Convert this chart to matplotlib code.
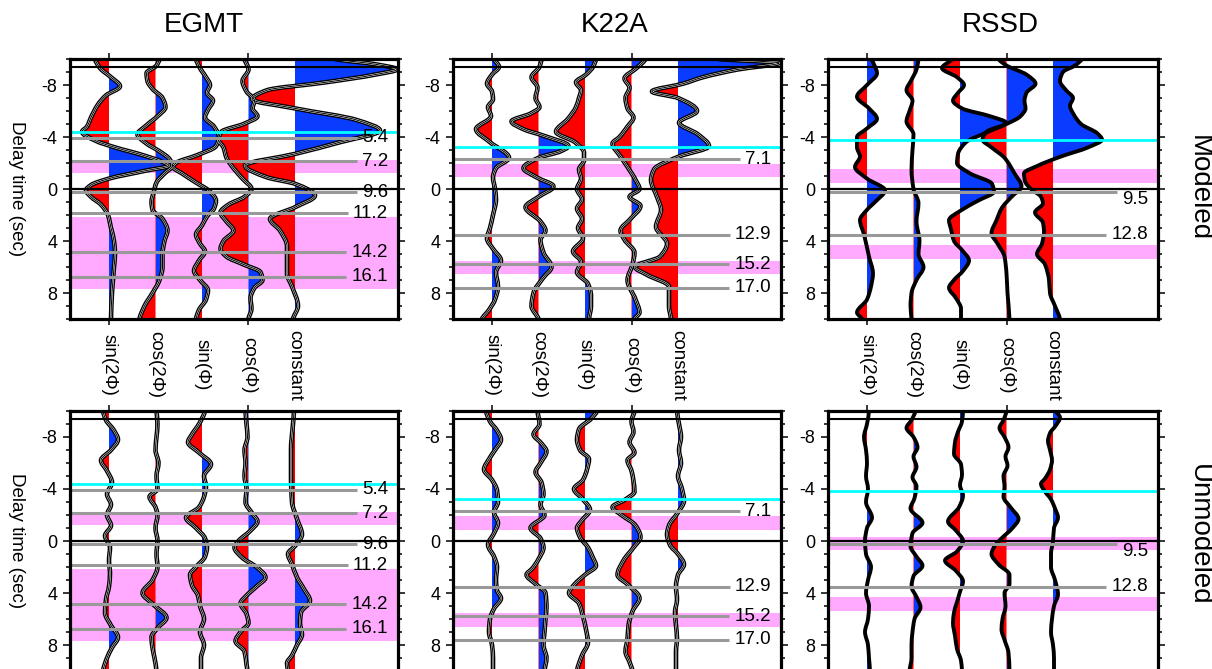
import numpy as np
import matplotlib.pyplot as plt
from matplotlib.path import Path
from matplotlib.patches import PathPatch, Rectangle
from matplotlib.ticker import MultipleLocator
from matplotlib import transforms

plt.rcParams['font.family'] = ['Liberation Sans', 'DejaVu Sans']
plt.rcParams['axes.unicode_minus'] = False

stations = ['EGMT', 'K22A', 'RSSD']
components = ['sin(2Φ)', 'cos(2Φ)', 'sin(Φ)', 'cos(Φ)', 'constant']
rows = ['Modeled', 'Unmodeled']

# harmonic traces: (delay time [s], amplitude) knots
egmt_mod_sin2 = [(-10, -14), (-9.3, -9), (-8.6, 2), (-7.9, 11), (-7.2, -3), (-6.5, -11), (-5.5, -18), (-4.8, -22),
                 (-4.4, -27), (-3.7, -13), (-3.2, 6), (-2.6, 34), (-2.0, 56), (-1.8, 60), (-1.4, 36), (-0.8, 0),
                 (-0.3, -18), (0.1, -23), (0.6, -18), (1.2, -8), (2.0, -1), (3.0, 2), (4.0, 5), (5.0, 6), (6.0, 5),
                 (7.0, 4), (8.0, 3), (10, 2)]
egmt_mod_cos2 = [(-10, 4), (-9.5, 1), (-8.9, -9), (-8.3, -8), (-7.7, -3), (-7.0, 7), (-6.3, 10), (-5.6, 2), (-4.9, -9),
                 (-4.2, -18), (-3.5, -9), (-2.9, 4), (-2.3, 14), (-1.8, 17), (-1.2, 9), (-0.5, 1), (0.3, -2), (1.0, -4),
                 (1.6, -3), (2.3, 7), (3.2, 12), (4.0, 9), (5.0, 7), (6.0, 7), (7.0, 4), (8.0, -3), (9.0, -11), (10, -16)]
egmt_mod_sin = [(-10, -6), (-9.3, -2), (-8.6, 4), (-8.0, 8), (-7.4, 5), (-6.8, 11), (-6.1, 6), (-5.5, 3), (-4.8, 12),
                (-4.0, 17), (-3.3, 14), (-2.6, -5), (-2.0, -26), (-1.7, -29), (-1.2, -20), (-0.5, -6), (0.2, 8),
                (0.9, 14), (1.5, 12), (2.1, 5), (2.8, 0), (3.5, -6), (4.2, -2), (4.8, 3), (5.5, -3), (6.3, -8),
                (7.0, -2), (7.8, 6), (8.5, 4), (9.3, -3), (10, -6)]
egmt_mod_cos = [(-10, -4), (-9.2, 0), (-8.3, -6), (-7.5, -2), (-6.8, 6), (-6.2, 4), (-5.6, 9), (-5.0, -5), (-4.4, -27),
                (-3.8, -30), (-3.2, -25), (-2.4, -22), (-1.6, -15), (-0.8, -6), (0, 3), (0.6, -4), (1.2, -20),
                (1.8, -28), (2.5, -22), (3.2, -15), (4.0, -25), (4.6, -28), (5.2, -22), (5.8, -5), (6.4, 12), (7.0, 14),
                (7.6, 6), (8.4, 2), (9.2, 3), (10, 0)]
egmt_mod_const = [(-10, 40), (-9.6, 80), (-9.2, 102), (-8.8, 80), (-8.2, 30), (-7.6, -28), (-6.9, -43), (-6.2, 0),
                  (-5.3, 62), (-4.5, 85), (-3.6, 45), (-2.7, 0), (-1.8, -50), (-0.9, -28), (-0.4, 0), (0.5, 20),
                  (1.4, 0), (2.3, -25), (3.2, -15), (4.4, -8), (6.5, -8), (7.5, -3), (9.0, 3), (10, -2)]

k22a_mod_sin2 = [(-10, 2), (-9.4, 7), (-8.8, 0), (-8.1, -5), (-7.5, 0), (-6.9, 1), (-6.3, -4), (-5.6, -1), (-4.6, -16),
                 (-3.6, -2), (-2.4, 17), (-1.6, 4), (-0.9, 1), (0, 3), (0.8, 4), (2.0, 1), (3.0, -2), (3.8, -5),
                 (4.6, 1), (5.5, 9), (6.4, 4), (7.5, 6), (8.5, 3), (9.3, -3), (10, -10)]
k22a_mod_cos2 = [(-10, 3), (-9.4, 1), (-8.6, -7), (-7.8, -1), (-7.0, -3), (-6.3, 1), (-5.8, -8), (-5.2, -27),
                 (-4.6, -15), (-4.1, 5), (-3.3, 30), (-2.9, 22), (-2.4, 0), (-1.6, -15), (-0.9, -2), (-0.2, 15),
                 (0.6, 0), (1.4, -13), (2.5, 2), (3.2, 7), (3.9, 2), (4.9, 5), (6.0, 13), (6.8, 5), (8.0, -5),
                 (9.0, -7), (10, 0)]
k22a_mod_sin = [(-10, 11), (-9.4, 8), (-8.8, 1), (-8.2, -9), (-7.6, -4), (-7.0, -6), (-6.3, -9), (-5.4, -17),
                (-4.4, -29), (-3.6, -10), (-2.8, -1), (-2.2, -1), (-1.5, -6), (-0.8, -4), (0, -8), (0.8, -3),
                (1.5, -8), (2.3, -3), (3.0, -7), (3.8, -2), (4.8, -12), (5.6, -4), (6.4, -8), (7.3, 3), (8.2, 6),
                (9.0, 6), (10, 4)]
k22a_mod_cos = [(-10, 14), (-9.3, 5), (-8.5, -7), (-7.8, -2), (-7.0, -6), (-6.2, -4), (-5.5, 2), (-4.8, -4),
                (-4.0, -12), (-3.5, -19), (-2.5, -11), (-1.7, -4), (-0.7, 4), (0, 8), (0.6, -2), (1.3, 9), (2.3, -1),
                (3.2, -11), (3.9, -7), (4.9, 3), (5.8, 1), (7.0, -4), (8.5, 4), (9.5, 8), (10, 3)]
k22a_mod_const = [(-10, 40), (-9.7, 101), (-9.2, 60), (-8.6, 25), (-8.1, 5), (-7.5, -26), (-7.0, 0), (-6.0, 19),
                  (-5.1, 1), (-4.2, 20), (-3.3, 31), (-2.5, 1), (-1.5, -24), (-0.7, -27), (0.6, -21), (1.6, -17),
                  (2.9, -22), (4.2, -11), (5.2, -18), (6.0, -43), (6.6, -31), (7.5, -9), (9.0, -9), (10, -7)]

rssd_mod_sin2 = [(-10, 5), (-8.9, 10), (-8.0, 0), (-7.1, -10), (-6.2, 2), (-5.4, 10), (-4.6, -1), (-4.0, -10),
                 (-3.2, -10), (-2.5, -7), (-1.7, -12), (-0.8, 0), (0.1, 18), (1.0, 8), (1.6, 0), (2.4, -7), (3.5, -3),
                 (5.2, 2), (6.5, 6), (7.5, 4), (8.5, 0), (9.5, -10), (10, -5)]
rssd_mod_cos2 = [(-10, 5), (-9.2, 3), (-8.4, -2), (-7.6, -7), (-6.8, -1), (-6.0, -4), (-5.2, -7), (-4.2, 0),
                 (-3.0, -1), (-1.5, -2), (0, 0), (1.1, 5), (2.5, 3), (4.0, 6), (5.0, 5), (6.0, 10), (7.0, 3),
                 (8.0, -2), (9.0, -3), (10, -2)]
rssd_mod_sin = [(-10, -8), (-9.3, -18), (-8.6, -3), (-8.0, 4), (-7.4, -2), (-6.8, -7), (-6.2, 2), (-5.6, 30),
                (-5.1, 46), (-4.4, 28), (-3.6, 6), (-2.7, -2), (-2.0, -3), (-1.2, 10), (-0.4, 32), (0.2, 34),
                (0.9, 18), (1.6, 2), (2.4, -11), (3.1, -9), (4.0, -6), (4.7, 2), (5.5, 9), (6.3, 3), (7.0, -6),
                (7.6, -11), (8.4, -4), (9.2, 1), (10, 1)]
rssd_mod_cos = [(-10, -8), (-9.5, 0), (-8.8, 20), (-8.1, 29), (-7.4, 20), (-6.8, 18), (-6.2, 19), (-5.6, 14),
                (-5.0, 0), (-4.4, -20), (-3.8, -24), (-3.2, -15), (-2.4, -2), (-1.2, 8), (-0.2, 15), (0.6, 5),
                (1.5, -5), (2.4, -10), (3.4, -15), (4.2, -9), (5.2, -2), (6.5, 0), (8.0, 1), (10, 3)]
rssd_mod_const = [(-10, 29), (-9.5, 22), (-9.0, 10), (-8.3, 7), (-7.6, 13), (-7.0, 20), (-6.4, 17), (-5.7, 21),
                  (-5.0, 28), (-4.3, 44), (-3.8, 49), (-3.2, 35), (-2.5, 8), (-1.8, -15), (-1.2, -29), (-0.6, -28),
                  (0, -22), (0.6, -12), (1.1, -10), (1.8, -18), (2.6, -10), (3.3, -9), (4.2, -11), (5.0, -16),
                  (5.8, -8), (7.0, -4), (8.0, -3), (9.0, 2), (10, 7)]

egmt_unm_sin2 = [(-10, -6), (-9.3, -3), (-8.5, 5), (-7.8, 9), (-7.0, 2), (-6.2, -8), (-5.4, -2), (-4.5, 3), (-3.6, -2),
                 (-2.8, 2), (-2.0, -2), (-1.2, 2), (-0.4, -4), (0.5, 1), (1.5, 0), (2.5, 1), (3.5, 0), (4.5, -3),
                 (5.5, -4), (6.5, 2), (7.4, 9), (8.2, 3), (9.0, -2), (10, -6)]
egmt_unm_cos2 = [(-10, 1), (-9, 2), (-8, 1), (-7, 0), (-6, 3), (-5, 1), (-4, 2), (-3.4, -6), (-2.6, 0), (-2, 2),
                 (-1, 0), (0, 2), (1, 1), (2, 2), (3, -3), (4.0, -13), (4.9, -2), (5.9, 11), (6.7, 2), (7.4, -4),
                 (8.2, -3), (9, -1), (10, 1)]
egmt_unm_sin = [(-10, 3), (-9.0, -3), (-8.2, -10), (-7.6, -14), (-6.8, -3), (-5.9, 9), (-5.0, 2), (-4.2, 4),
                (-3.4, 2), (-2.6, -3), (-1.8, -16), (-1.0, -6), (-0.2, 3), (0.5, 5), (1.2, 3), (2.0, -6), (2.6, -12),
                (3.4, -10), (4.2, -4), (5.0, -2), (6.0, 2), (7.0, -2), (8.0, 2), (9.0, -1), (10, -1)]
egmt_unm_cos = [(-10, -3), (-9, -2), (-8, -1), (-7, -4), (-6, -3), (-5, -4), (-4, -2), (-3, -3), (-2.1, 4), (-1.5, 9),
                (-0.8, 2), (0, -10), (0.5, -14), (1.3, -6), (2.0, 8), (2.8, 17), (3.5, 8), (4.2, -2), (4.8, -8),
                (5.6, -2), (6.3, 0), (7.0, -8), (7.7, -13), (8.5, -4), (9.5, -2), (10, -1)]
egmt_unm_const = [(-10, -1), (-9, -2), (-7, -4), (-5, -4), (-3, -3), (-1.7, 2), (-0.5, 7), (0.3, 1), (1.0, -7),
                  (1.8, -3), (2.8, 2), (3.7, 9), (4.6, 15), (5.5, 6), (6.3, 5), (7.2, 7), (8.0, 2), (8.8, -3),
                  (9.4, -8), (10, -7)]

k22a_unm_sin2 = [(-10, -6), (-9.2, -2), (-8.5, 5), (-7.8, 9), (-7.0, 3), (-6.3, -3), (-5.5, -8), (-4.7, 0), (-3.9, 5),
                 (-3.0, 6), (-2.2, 2), (-1.4, 6), (-0.6, 2), (0.3, -4), (1.2, 2), (2.0, 5), (3.0, 4), (3.8, 5),
                 (4.4, 9), (5.2, 2), (6.0, -2), (7.0, -3), (8.0, 0), (9.0, 1), (10, 1)]
k22a_unm_cos2 = [(-10, -1), (-9.0, 1), (-8.2, -5), (-7.5, 3), (-6.9, 8), (-6.0, 2), (-5.3, -3), (-4.5, 3), (-3.6, 5),
                 (-2.8, 2), (-2.0, 6), (-1.0, -8), (-0.2, 2), (0.5, 5), (1.4, 0), (2.1, -6), (2.6, -12), (3.3, -3),
                 (4.0, 7), (5.1, 8), (6.0, 7), (7.0, 6), (8.0, 5), (9.0, 8), (10, 6)]
k22a_unm_sin = [(-10, 12), (-9.4, 6), (-8.6, -6), (-7.8, -8), (-7.0, -5), (-6.3, 4), (-5.5, 2), (-4.7, -2),
                (-4.0, -11), (-3.2, -2), (-2.4, 5), (-1.6, -3), (-1.0, -8), (-0.3, -5), (0.5, 3), (1.3, 8), (1.9, 11),
                (2.6, 0), (3.3, -10), (4.0, -16), (4.8, -6), (5.8, -2), (6.8, 1), (7.8, 3), (8.8, -3), (10, -8)]
k22a_unm_cos = [(-10, 3), (-9.2, 0), (-8.4, 2), (-7.6, -2), (-6.8, 3), (-6.2, -4), (-5.4, 0), (-4.6, 2), (-3.8, 3),
                (-3.2, -6), (-2.6, -19), (-2.0, -10), (-1.2, 4), (-0.3, 9), (0.5, 2), (1.5, -8), (2.6, -14),
                (3.4, -3), (4.4, 8), (5.4, 1), (6.5, -3), (7.5, -4), (8.5, -6), (9.3, -2), (10, 1)]
k22a_unm_const = [(-10, -1), (-9, 1), (-8, 3), (-7, 1), (-6, 3), (-5, 0), (-4, 4), (-3.1, 6), (-2.2, 0), (-1.2, -9),
                  (-0.5, -11), (0.3, -8), (1.0, 0), (1.8, 6), (2.6, 0), (3.5, -2), (4.5, -1), (5.5, -3), (6.5, -2),
                  (7.5, -1), (8.5, -2), (10, -2)]

rssd_unm_sin2 = [(-10, 2), (-9, 0), (-8, -3), (-7, -1), (-6, 0), (-5, -1), (-4, 1), (-3, -1), (-1.8, 5), (-1, 0),
                 (0, -2), (1, -1), (2, 4), (3, 1), (4, -1), (5, 2), (6, 1), (7, -2), (8, 1), (9, 2), (10, 3)]
rssd_unm_cos2 = [(-10, 2), (-9.3, -2), (-8.7, -7), (-8.0, 0), (-7.2, 4), (-6.5, 0), (-5.7, 3), (-4.9, -1), (-4.2, 3),
                 (-3.3, 1), (-2.5, -3), (-1.4, 9), (-0.6, -1), (0.4, -3), (1.2, 3), (1.9, 9), (2.7, 0), (3.5, -2),
                 (4.3, 3), (5.1, 7), (6.0, 1), (7.0, -1), (8.0, -2), (9.0, -2), (10, -4)]
rssd_unm_sin = [(-10, 3), (-9.2, 2), (-8.4, -2), (-7.6, -5), (-6.7, -6), (-5.9, 1), (-5.1, 2), (-4.3, 0), (-3.5, 3),
                (-2.6, -1), (-1.5, -12), (-0.8, -4), (0, 3), (0.8, -3), (1.5, -15), (2.3, -4), (3.1, 3), (3.9, 0),
                (4.7, -3), (5.5, -6), (6.3, -7), (7.3, -5), (8.3, -3), (9.2, 1), (10, 2)]
rssd_unm_cos = [(-10, 0), (-9.3, -3), (-8.7, -7), (-8.0, -2), (-7.2, 2), (-6.5, -1), (-5.8, 1), (-5.0, -3), (-4.2, -2),
                (-3.4, -3), (-2.6, 4), (-1.7, 12), (-1.0, 6), (-0.2, -5), (0.4, -12), (1.0, -15), (1.8, -8), (2.6, 3),
                (3.3, 3), (4.0, -2), (5.0, -1), (6.0, -4), (6.8, -5), (7.6, -2), (8.6, 2), (10, 3)]
rssd_unm_const = [(-10, 3), (-9.5, 7), (-8.9, 3), (-8.3, -3), (-7.7, -5), (-7.0, -3), (-6.2, -1), (-5.5, -3),
                  (-4.8, -8), (-4.4, -12), (-3.8, -8), (-3.2, -2), (-2.5, 2), (-1.8, 5), (-1.0, 1), (0, 0), (1.0, -2),
                  (2.0, -2), (3.0, 2), (4.1, 5), (5.0, 1), (6.0, -1), (7.0, -2), (8.0, 0), (9.0, 1), (10, 1)]

# phase picks (sec) and labelled conversion times per station
direct_p = -9.4
cyan_times = {'EGMT': [-4.36, -4.36], 'K22A': [-3.2, -3.25], 'RSSD': [-3.77, -3.85]}
pink_bands = {
    'EGMT': [[(-2.23, -1.2), (2.13, 7.7)], [(-2.23, -1.2), (2.13, 7.7)]],
    'K22A': [[(-1.92, -0.9), (5.54, 6.56)], [(-1.92, -0.88), (5.56, 6.6)]],
    'RSSD': [[(-1.54, -0.49), (4.31, 5.38)], [(-0.28, 0.72), (4.3, 5.38)]],
}
egmt_labels = [5.4, 7.2, 9.6, 11.2, 14.2, 16.1]
k22a_labels = [7.1, 12.9, 15.2, 17.0]
rssd_labels = [9.5, 12.8]
label_shift = {'EGMT': 9.35, 'K22A': 9.4, 'RSSD': 9.27}

traces = {
    ('EGMT', 0): [egmt_mod_sin2, egmt_mod_cos2, egmt_mod_sin, egmt_mod_cos, egmt_mod_const],
    ('K22A', 0): [k22a_mod_sin2, k22a_mod_cos2, k22a_mod_sin, k22a_mod_cos, k22a_mod_const],
    ('RSSD', 0): [rssd_mod_sin2, rssd_mod_cos2, rssd_mod_sin, rssd_mod_cos, rssd_mod_const],
    ('EGMT', 1): [egmt_unm_sin2, egmt_unm_cos2, egmt_unm_sin, egmt_unm_cos, egmt_unm_const],
    ('K22A', 1): [k22a_unm_sin2, k22a_unm_cos2, k22a_unm_sin, k22a_unm_cos, k22a_unm_const],
    ('RSSD', 1): [rssd_unm_sin2, rssd_unm_cos2, rssd_unm_sin, rssd_unm_cos, rssd_unm_const],
}
labels = {'EGMT': egmt_labels, 'K22A': k22a_labels, 'RSSD': rssd_labels}

BLUE = '#0a3cff'
RED = '#ff0000'
PINK = '#ffaaff'
CYAN = '#00ffff'
GREY = '#999999'
GAIN = 1 / 46.5       # amplitude units -> trace spacing
W, H = 1212, 669


def trace_path(knots, base):
    """Smooth cubic Bezier path through the knots (monotone Hermite tangents)."""
    t = np.array([k[0] for k in knots], float)
    a = np.array([k[1] for k in knots], float)
    h = np.diff(t)
    d = np.diff(a) / h
    m = np.zeros_like(a)
    for i in range(1, len(a) - 1):
        if d[i - 1] * d[i] > 0:
            w1, w2 = 2 * h[i] + h[i - 1], h[i] + 2 * h[i - 1]
            m[i] = (w1 + w2) / (w1 / d[i - 1] + w2 / d[i])
    m[0], m[-1] = d[0] * 0.5, d[-1] * 0.5
    verts = [(base + a[0] * GAIN, t[0])]
    codes = [Path.MOVETO]
    for i in range(len(h)):
        verts.append((base + (a[i] + m[i] * h[i] / 3) * GAIN, t[i] + h[i] / 3))
        verts.append((base + (a[i + 1] - m[i + 1] * h[i] / 3) * GAIN, t[i + 1] - h[i] / 3))
        verts.append((base + a[i + 1] * GAIN, t[i + 1]))
        codes += [Path.CURVE4] * 3
    return verts, codes


def draw_trace(ax, knots, base, striped):
    verts, codes = trace_path(knots, base)
    x0, x1 = ax.get_xlim()
    t0, t1 = verts[0][1], verts[-1][1]
    fill = Path(verts + [(base, t1), (base, t0), (base, t0)],
                codes + [Path.LINETO, Path.LINETO, Path.CLOSEPOLY])
    for color, (cx, cw) in [(BLUE, (base, x1 - base)), (RED, (x0, base - x0))]:
        p = PathPatch(fill, facecolor=color, edgecolor='none', zorder=1)
        ax.add_patch(p)
        p.set_clip_path(Rectangle((cx, -10), cw, 20, transform=ax.transData))
    line = Path(verts, codes)
    # bootstrap bundle look: black envelope with a thin white gap
    if striped:
        styles = [('black', 3.3), ('white', 1.35), ('black', 0.7)]
    else:
        styles = [('black', 2.8)]
    for k, (col, lw) in enumerate(styles):
        ax.add_patch(PathPatch(line, facecolor='none', edgecolor=col, lw=lw, zorder=1.5 + 0.1 * k,
                               capstyle='butt', joinstyle='round'))


fig = plt.figure(figsize=(W / 100, H / 100), dpi=100)

lefts = [70, 453, 828]
widths = [328, 328, 330]
row_tops = [59, 411]
panel_h = 260
first_off = 39
spacing = 46.5

axes = {}
for r in range(2):
    for c, st in enumerate(stations):
        ax = fig.add_axes([lefts[c] / W, 1 - (row_tops[r] + panel_h) / H, widths[c] / W, panel_h / H])
        xmin = 1 - first_off / spacing
        xmax = 1 + (widths[c] - first_off) / spacing
        ax.set_xlim(xmin, xmax)
        ax.set_ylim(10, -10)
        axes[(st, r)] = ax

        for y1, y2 in pink_bands[st][r]:
            ax.axhspan(y1, y2, color=PINK, lw=0, zorder=0.5)

        for k, knots in enumerate(traces[(st, r)]):
            draw_trace(ax, knots, k + 1, striped=(st != 'RSSD'))

        ax.axhline(cyan_times[st][r], color=CYAN, lw=2.0, zorder=2)
        ax.axhline(direct_p, color='black', lw=1.5, zorder=2.3)
        ax.axhline(0, color='black', lw=1.6, zorder=2.3)

        for sp in ax.spines.values():
            sp.set_linewidth(2.3)
        ax.yaxis.set_major_locator(MultipleLocator(4))
        ax.yaxis.set_minor_locator(MultipleLocator(1))
        ax.set_xticks([1, 4])
        ax.tick_params(axis='x', which='both', direction='out', top=True, bottom=True,
                       labelbottom=False, length=4, width=1.1)
        ax.tick_params(axis='y', which='major', direction='out', left=True, right=True,
                       length=5, width=1.1, labelsize=13, pad=4)
        ax.tick_params(axis='y', which='minor', direction='out', left=True, right=True,
                       length=3, width=1.1)

        # conversion-time labels
        for i, val in enumerate(labels[st]):
            y = val - label_shift[st]
            dy = 0.6 if (st == 'RSSD' and i == 0) else 0.0
            txt = ax.text(xmax - 10 / spacing, y + dy, f'{val:.1f}', ha='right', va='center',
                          fontsize=13.5, zorder=4)
            txt._line_y = y

fig.canvas.draw()
renderer = fig.canvas.get_renderer()
for (st, r), ax in axes.items():
    for txt in ax.texts:
        bb = txt.get_window_extent(renderer)
        x_end = ax.transData.inverted().transform((bb.x0 - 5, 0))[0]
        ax.plot([ax.get_xlim()[0], x_end], [txt._line_y] * 2, color=GREY, lw=2.2,
                solid_capstyle='butt', zorder=2.1)

# component names between the rows
for c, st in enumerate(stations):
    ax = axes[(st, 0)]
    trans = transforms.blended_transform_factory(ax.transData, fig.transFigure)
    for k, name in enumerate(components):
        fig.text(k + 1, 1 - 365 / H, name, transform=trans, rotation=-90,
                 ha='center', va='center', fontsize=13.5)

title_x = [204, 615, 1000]
for c, st in enumerate(stations):
    fig.text(title_x[c] / W, 1 - 32 / H, st, ha='center', va='baseline', fontsize=20)

fig.text(1199 / W, 1 - 188 / H, rows[0], rotation=-90, ha='center', va='center', fontsize=20)
fig.text(1199 / W, 1 - 535 / H, rows[1], rotation=-90, ha='center', va='center', fontsize=20)
for yc in (189, 541):
    fig.text(16 / W, 1 - yc / H, 'Delay time (sec)', rotation=-90, ha='center', va='center', fontsize=13.5)

fig.savefig('out.png', dpi=100)
